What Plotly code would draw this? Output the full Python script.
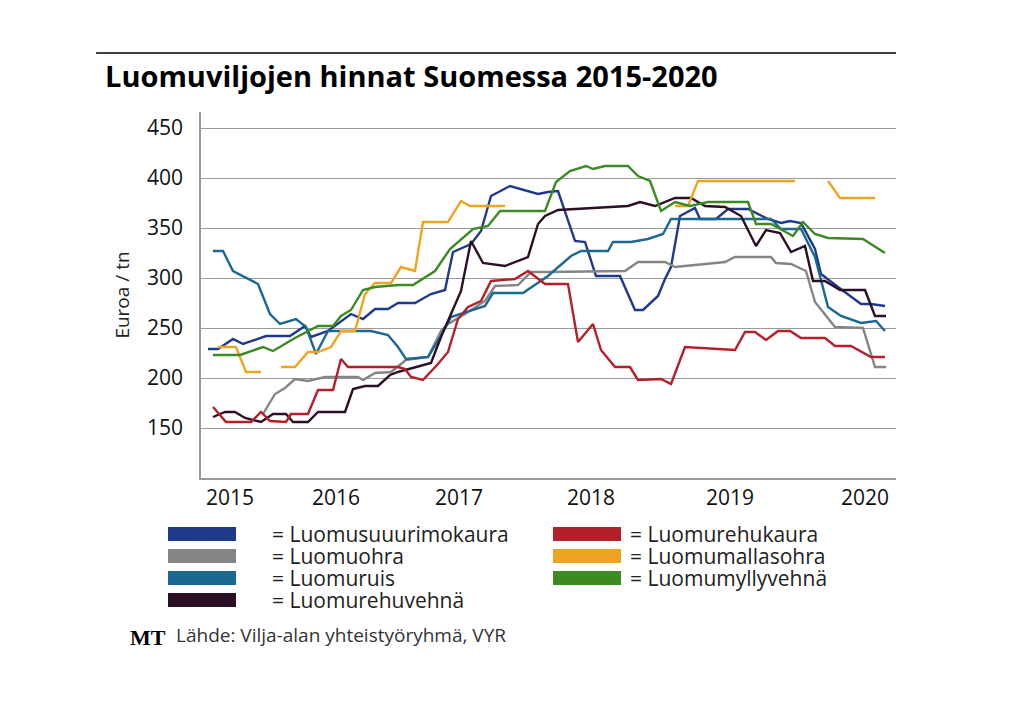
import plotly.graph_objects as go

# x-akseli: aikajana (yksikkö vapaa), vuosimerkit alla
years = ["2015", "2016", "2017", "2018", "2019", "2020"]
year_pos = [222, 328, 451, 583, 722, 857]

names = ["Luomusuuurimokaura", "Luomuohra", "Luomuruis", "Luomurehuvehnä",
         "Luomurehukaura", "Luomumallasohra", "Luomumyllyvehnä"]
colors = ["#1f3a8a", "#858585", "#1b6890", "#2b0f26", "#b3202a", "#eea321", "#3c8a22"]

kaura_x = [200, 210, 225, 235, 258, 282, 297, 303, 320, 343, 355, 367, 380, 390, 407, 423, 437, 445, 463, 473, 483, 502, 530,
           540, 550, 567, 577, 588, 612, 627, 635, 650, 657, 663, 672, 687, 692, 708, 720, 740, 760, 773, 782, 793, 807, 813,
           830, 853, 863, 877]
kaura_y = [229, 229, 239, 234, 242, 242, 252, 241, 247, 264, 259, 269, 269, 275, 275, 284, 288, 326, 334, 347, 382, 392, 384,
           386, 387, 337, 336, 302, 302, 268, 268, 282, 299, 311, 362, 370, 359, 359, 369, 369, 359, 355, 357, 355, 329, 304,
           291, 274, 274, 272]

ohra_x = [255, 267, 277, 287, 300, 317, 350, 355, 367, 383, 398, 420, 433, 440, 457, 477, 487, 510, 523, 540,
          617, 630, 657, 667, 717, 727, 763, 768, 783, 798, 807, 827, 855, 867, 878]
ohra_y = [164, 184, 190, 199, 197, 201, 201, 198, 205, 206, 218, 221, 247, 254, 264, 277, 292, 293, 306, 306,
          307, 316, 316, 311, 316, 321, 321, 315, 314, 307, 276, 251, 250, 211, 211]

ruis_x = [205, 215, 225, 240, 250, 262, 272, 288, 298, 308, 320, 363, 380, 390, 398, 420, 430, 443, 477, 485, 515, 540,
          563, 573, 600, 605, 623, 640, 655, 663, 763, 773, 793, 807, 820, 833, 853, 868, 877]
ruis_y = [327, 327, 307, 299, 294, 264, 254, 259, 251, 224, 247, 247, 243, 231, 219, 221, 237, 261, 272, 285, 285, 302,
          322, 327, 327, 336, 336, 339, 344, 359, 359, 349, 349, 321, 271, 262, 255, 257, 247]

vehna_x = [205, 217, 227, 237, 253, 265, 278, 285, 300, 310, 337, 345, 357, 370, 382, 390, 423, 433, 443, 453, 463, 475,
           497, 520, 530, 537, 550, 583, 620, 632, 647, 667, 683, 697, 717, 733, 748, 758, 772, 783, 797, 805, 817, 832,
           857, 867, 878]
vehna_y = [161, 166, 166, 160, 156, 164, 164, 156, 156, 166, 166, 189, 192, 192, 203, 206, 215, 241, 264, 287, 337, 315,
           312, 321, 354, 362, 368, 370, 372, 376, 372, 380, 380, 372, 371, 362, 332, 348, 345, 326, 332, 297, 297, 288,
           288, 262, 262]

rehukaura_x = [205, 218, 243, 253, 262, 278, 283, 300, 310, 325, 333, 340, 390, 397, 403, 415, 430, 440, 450, 460, 473,
               483, 507, 520, 533, 537, 560, 570, 585, 593, 607, 622, 630, 653, 663, 677, 727, 737, 747, 758, 770, 782,
               793, 817, 827, 843, 863, 877]
rehukaura_y = [171, 156, 156, 166, 157, 156, 164, 164, 188, 188, 219, 211, 211, 209, 201, 198, 214, 226, 259, 271, 277,
               297, 299, 307, 297, 294, 294, 236, 254, 228, 211, 211, 198, 199, 194, 231, 228, 246, 246, 238, 247, 247,
               240, 240, 232, 232, 221, 221]

# None = katko sarjassa
mallas_x = [210, 228, 238, 253, None, 273, 287, 300, 310, 323, 333, 347, 357, 367, 383, 393, 407, 415, 440, 453, 462, 497,
            None, 667, 680, 690, 787, None, 820, 832, 867]
mallas_y = [231, 231, 206, 206, None, 211, 211, 226, 226, 231, 247, 247, 284, 295, 295, 311, 307, 356, 356, 377, 372, 372,
            None, 372, 372, 397, 397, None, 397, 380, 380]

mylly_x = [205, 232, 255, 265, 287, 310, 325, 333, 343, 355, 367, 390, 405, 427, 442, 465, 480, 492, 537,
           548, 562, 578, 585, 597, 620, 630, 642, 653, 667, 682, 700, 740, 748, 763, 785, 795, 807, 820, 855, 877]
mylly_y = [223, 223, 231, 227, 240, 252, 252, 262, 268, 288, 291, 293, 293, 307, 329, 349, 352, 367, 367,
           396, 407, 412, 409, 412, 412, 402, 397, 367, 376, 372, 376, 376, 354, 354, 342, 356, 344, 340, 339, 325]

xs = [kaura_x, ohra_x, ruis_x, vehna_x, rehukaura_x, mallas_x, mylly_x]
ys = [kaura_y, ohra_y, ruis_y, vehna_y, rehukaura_y, mallas_y, mylly_y]

fig = go.Figure()
for nm, c, x, y in zip(names, colors, xs, ys):
    fig.add_trace(go.Scatter(x=x, y=y, mode="lines", name=nm, line=dict(color=c, width=2.4)))

fig.update_layout(
    width=1019, height=702, showlegend=False,
    paper_bgcolor="white", plot_bgcolor="white",
    margin=dict(l=193, r=131, t=104, b=232),
    font=dict(family="Open Sans", color="#222"),
    xaxis=dict(range=[193, 888], tickvals=year_pos, ticktext=years, showgrid=False, zeroline=False,
               showline=True, linecolor="#999", linewidth=1.5, tickfont=dict(size=21, color="#111"),
               automargin=False),
    yaxis=dict(range=[100, 466], tickvals=[150, 200, 250, 300, 350, 400, 450], showgrid=True,
               gridcolor="#9a9a9a", gridwidth=1.2, zeroline=False, showline=True, linecolor="#999",
               linewidth=1.5, ticklabelstandoff=12, tickfont=dict(size=21, color="#111"), automargin=False,
               title=dict(text="Euroa / tn", font=dict(size=19), standoff=12)),
)

shapes = [dict(type="line", xref="paper", yref="paper", x0=-0.151, x1=1.0, y0=1.161, y1=1.161,
               line=dict(color="black", width=1.5))]
ann = [dict(text="<b>Luomuviljojen hinnat Suomessa 2015-2020</b>", xref="paper", yref="paper",
            x=-0.141, y=1.101, xanchor="left", yanchor="middle", showarrow=False,
            font=dict(size=29, color="black", family="Open Sans"))]

# oma selite kahteen sarakkeeseen
leg_cols = [(160, 262, 0, 4), (545, 620, 4, 7)]
for bx, tx, a, b in leg_cols:
    for k, i in enumerate(range(a, b)):
        yy = 534 + 22 * k
        shapes.append(dict(type="rect", xref="paper", yref="paper",
                           x0=(bx - 193) / 695, x1=(bx + 68 - 193) / 695,
                           y0=(478 - yy - 7) / 366, y1=(478 - yy + 7) / 366,
                           fillcolor=colors[i], line=dict(width=0)))
        ann.append(dict(text="= " + names[i], xref="paper", yref="paper", x=(tx - 193) / 695,
                        y=(478 - yy) / 366, xanchor="left", yanchor="middle", showarrow=False,
                        font=dict(size=21, color="#222")))

ann.append(dict(text="<b>MT</b>", xref="paper", yref="paper", x=(120 - 193) / 695, y=(478 - 637) / 366,
                xanchor="left", yanchor="middle", showarrow=False,
                font=dict(size=22, color="black", family="Liberation Serif")))
ann.append(dict(text="Lähde: Vilja-alan yhteistyöryhmä, VYR", xref="paper", yref="paper",
                x=(166 - 193) / 695, y=(478 - 635) / 366, xanchor="left", yanchor="middle",
                showarrow=False, font=dict(size=19, color="#333")))

fig.update_layout(shapes=shapes, annotations=ann)
fig.write_html("out.html")
